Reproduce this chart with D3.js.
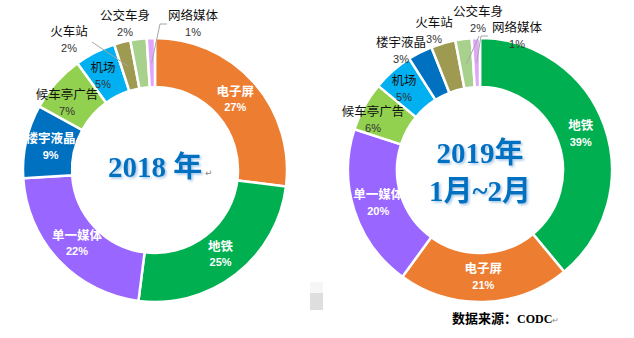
<!DOCTYPE html>
<html>
<head>
<meta charset="utf-8">
<script src="https://cdn.jsdelivr.net/npm/d3@7"></script>
<style>
  html, body { margin: 0; padding: 0; background: #fff; }
  svg { display: block; }
</style>
</head>
<body>
<svg id="chart" width="634" height="338"></svg>
<script>
// ---------------- DATA ----------------
const categories2018 = ["电子屏", "地铁", "单一媒体", "楼宇液晶", "候车亭广告", "机场", "火车站", "公交车身", "网络媒体"];
const values2018 = [27, 25, 22, 9, 7, 5, 2, 2, 1];

const categories2019 = ["地铁", "电子屏", "单一媒体", "候车亭广告", "机场", "楼宇液晶", "火车站", "公交车身", "网络媒体"];
const values2019 = [39, 21, 20, 6, 5, 3, 3, 2, 1];

const title2018 = ["2018 年"];
const title2019 = ["2019年", "1月~2月"];
const sourceLabel = "数据来源：";
const sourceName = "CODC";

// ---------------- STYLE ----------------
const colorMap = {
  "电子屏": "#ED7D31",
  "地铁": "#00B050",
  "单一媒体": "#9966FF",
  "楼宇液晶": "#0070C0",
  "候车亭广告": "#92D050",
  "机场": "#00B0F0",
  "火车站": "#9E9A52",
  "公交车身": "#A9D18E",
  "网络媒体": "#DFA6FA"
};

const svg = d3.select("#chart");
const defs = svg.append("defs");
const f = defs.append("filter").attr("id", "shadow").attr("x", "-20%").attr("y", "-20%").attr("width", "140%").attr("height", "140%");
f.append("feDropShadow").attr("dx", 1.6).attr("dy", 1.6).attr("stdDeviation", 0.9)
  .attr("flood-color", "#5B9BD5").attr("flood-opacity", 0.55);

const R = 132, r0 = 83, rLab = 107;
const pie = d3.pie().sort(null).value(d => d.v);
const arc = d3.arc().innerRadius(r0).outerRadius(R);
const labArc = d3.arc().innerRadius(rLab).outerRadius(rLab);

const CJK = "'Noto Sans CJK SC', 'Noto Sans', sans-serif";
const NARROW = "'Liberation Sans Narrow', 'Arial Narrow', 'Liberation Sans', sans-serif";

// label layout: inside (white bold at centroid) or outside (explicit offset, optional leader)
const layout2018 = {
  "电子屏": {mode: "in"}, "地铁": {mode: "in"}, "单一媒体": {mode: "in"}, "楼宇液晶": {mode: "in"},
  "候车亭广告": {mode: "dark", pos: [-88, -67]},
  "机场": {mode: "dark", pos: [-52, -94]},
  "火车站": {mode: "out", pos: [-86, -130], leader: [[-63, -128]]},
  "公交车身": {mode: "out", pos: [-30, -146]},
  "网络媒体": {mode: "out", pos: [38, -146], leader: [[12, -146], [5, -146]]}
};
const layout2019 = {
  "地铁": {mode: "in"}, "电子屏": {mode: "in"}, "单一媒体": {mode: "in"},
  "候车亭广告": {mode: "dark", pos: [-107, -50]},
  "机场": {mode: "dark", pos: [-76, -81]},
  "楼宇液晶": {mode: "out", pos: [-79, -119]},
  "火车站": {mode: "out", pos: [-46, -139]},
  "公交车身": {mode: "out", pos: [-2, -150], leader: [[-1, -134]]},
  "网络媒体": {mode: "out", pos: [37, -134], leader: [[8, -134], [1, -134]]}
};

function drawDonut(cx, cy, cats, vals, layout) {
  const data = cats.map((c, i) => ({c, v: vals[i]}));
  const g = svg.append("g").attr("transform", `translate(${cx},${cy})`);
  const arcs = pie(data);
  g.selectAll("path.slice").data(arcs).join("path")
    .attr("class", "slice")
    .attr("d", arc)
    .attr("fill", d => colorMap[d.data.c])
    .attr("stroke", "#fff").attr("stroke-width", 2.5);

  // leaders
  arcs.forEach(d => {
    const L = layout[d.data.c];
    if (L.leader) {
      const pts = L.leader.concat([labArc.centroid(d)]);
      g.append("path")
        .attr("d", d3.line()(pts))
        .attr("fill", "none").attr("stroke", "#A6A6A6").attr("stroke-width", 1);
    }
  });

  arcs.forEach(d => {
    const L = layout[d.data.c];
    const p = L.mode === "in" ? labArc.centroid(d) : L.pos;
    const inside = L.mode === "in";
    const col = inside ? "#fff" : "#111";
    g.append("text")
      .attr("x", p[0]).attr("y", p[1] - 7)
      .attr("text-anchor", "middle").attr("dominant-baseline", "middle")
      .attr("font-family", CJK).attr("font-size", 12.5)
      .attr("font-weight", inside ? 700 : 400)
      .attr("fill", col)
      .text(d.data.c);
    g.append("text")
      .attr("x", p[0]).attr("y", p[1] + 9)
      .attr("text-anchor", "middle").attr("dominant-baseline", "middle")
      .attr("font-family", NARROW).attr("font-size", 11)
      .attr("font-weight", inside ? 700 : 400)
      .attr("fill", inside ? "#fff" : "#333")
      .text(d.data.v + "%");
  });
  return g;
}

const gL = drawDonut(155, 170, categories2018, values2018, layout2018);
const gR = drawDonut(480, 170, categories2019, values2019, layout2019);

const TITLE = "'Liberation Serif', 'Noto Sans CJK SC', serif";
gL.append("text").attr("x", 0).attr("y", 0)
  .attr("text-anchor", "middle").attr("dominant-baseline", "middle")
  .attr("font-family", TITLE).attr("font-size", 29).attr("font-weight", 700)
  .attr("fill", "#0070C0").attr("filter", "url(#shadow)")
  .text(title2018[0]);
gL.append("text").attr("x", 50).attr("y", 6)
  .attr("font-family", "'DejaVu Sans', sans-serif").attr("font-size", 9)
  .attr("fill", "#888").text("↵");

title2019.forEach((t, i) => {
  gR.append("text").attr("x", 0).attr("y", -14 + i * 38)
    .attr("text-anchor", "middle").attr("dominant-baseline", "middle")
    .attr("font-family", TITLE).attr("font-size", 29).attr("font-weight", 700)
    .attr("fill", "#0070C0").attr("filter", "url(#shadow)")
    .text(t);
});

// source note
const src = svg.append("text").attr("x", 452).attr("y", 323)
  .attr("font-size", 13).attr("font-weight", 700).attr("fill", "#000");
src.append("tspan").attr("font-family", CJK).text(sourceLabel);
src.append("tspan").attr("font-family", "'Liberation Serif', serif").attr("font-size", 12).text(sourceName);
src.append("tspan").attr("font-family", "'DejaVu Sans', sans-serif").attr("font-size", 8)
  .attr("font-weight", 400).attr("fill", "#888").text("↵");

// small grey artefact between the charts
svg.append("rect").attr("x", 310).attr("y", 282).attr("width", 13).attr("height", 11).attr("fill", "#f6f6f6");
svg.append("rect").attr("x", 310).attr("y", 293).attr("width", 13).attr("height", 17).attr("fill", "#dedede");
</script>
</body>
</html>
